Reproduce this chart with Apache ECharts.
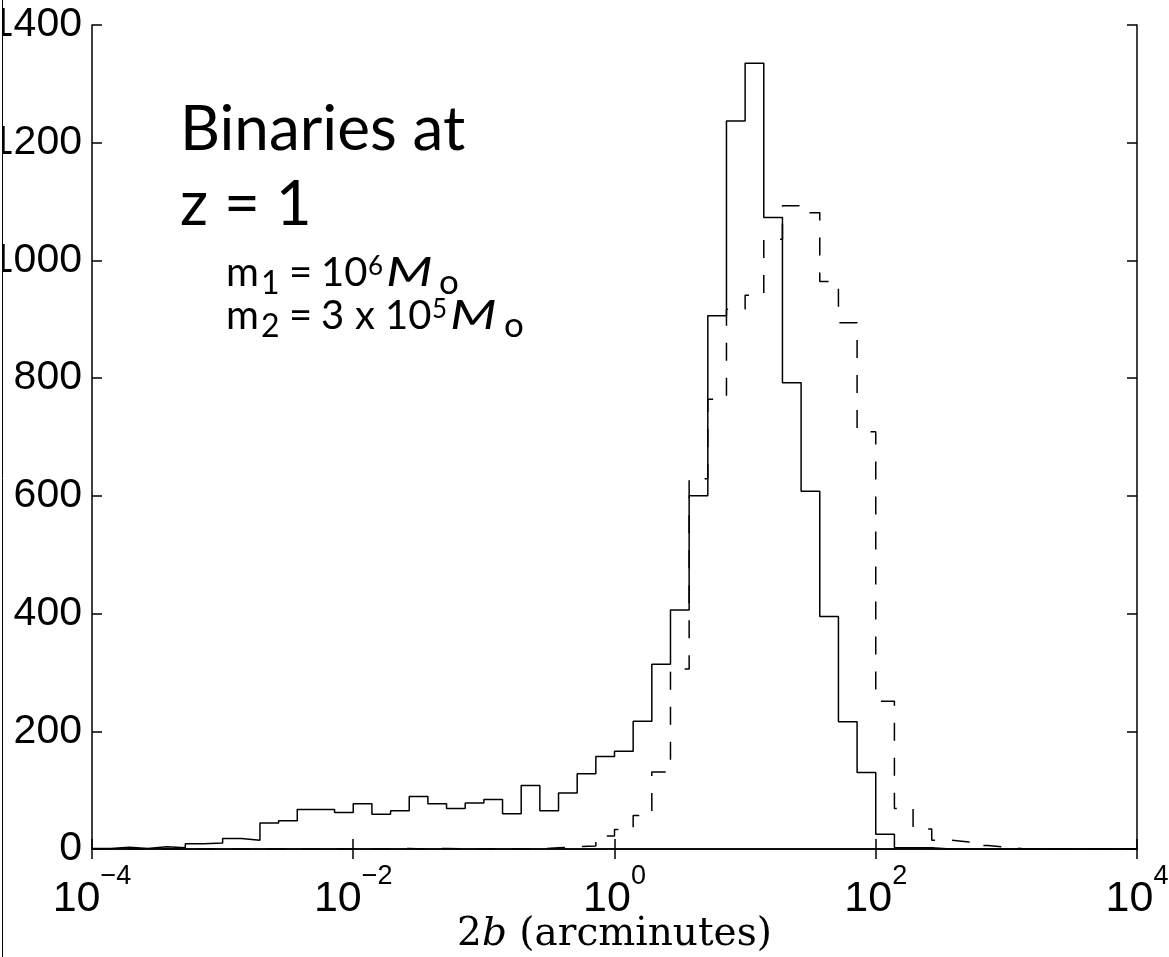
<!DOCTYPE html>
<html>
<head>
<meta charset="utf-8">
<script src="https://cdn.jsdelivr.net/npm/echarts@6/dist/echarts.min.js"></script>
<style>
html,body{margin:0;padding:0;background:#fff;}
#chart{width:1169px;height:957px;}
</style>
</head>
<body>
<div id="chart"></div>
<script>
// ---- data (histogram counts per log bin, 7 bins per decade from 10^-4) ----
const binsPerDecade = 7;
const xMinExp = -4;
const xMaxExp = 4;
const solidCounts = [
  1, 3, 1, 4, 2, 9, 10, 18, 15, 44,
  48, 67, 67, 62, 77, 59, 65, 89, 77, 69,
  78, 84, 60, 108, 65, 95, 128, 157, 166, 217,
  314, 406, 600, 906, 1237, 1335, 1073, 792, 608, 395,
  216, 130, 25, 2, 2, 0, 0, 0, 0, 0,
  0, 0, 0, 0, 0, 0
];
const dashedCounts = [
  0, 0, 0, 0, 0, 0, 0, 0, 0, 0,
  0, 0, 0, 0, 0, 0, 1, 0, 1, 0,
  0, 1, 0, 0, 2, 4, 5, 22, 33, 57,
  131, 306, 629, 764, 917, 941, 1036, 1093, 1081, 964,
  894, 709, 251, 69, 34, 15, 12, 6, 3, 0,
  0, 0, 0, 0, 0, 0
];
const yTicks = [0, 200, 400, 600, 800, 1000, 1200, 1400];
const xTitleParts = ['2', 'b', ' (arcminutes)'];
const annot = ['Binaries at', 'z = 1'];

// ---- build stair data from bin edges ----
function stairs(counts) {
  const pts = [];
  for (let k = 0; k < counts.length; k++) {
    pts.push([Math.pow(10, xMinExp + k / binsPerDecade), counts[k]]);
  }
  pts.push([Math.pow(10, xMinExp + counts.length / binsPerDecade), counts[counts.length - 1]]);
  return pts;
}

const chart = echarts.init(document.getElementById('chart'), null, {renderer: 'canvas'});

const F = 'Lato';
// text piece: t, x, baseline, size, italic, sx (horizontal stretch)
function piece(t, x, base, size, italic, sx) {
  return {
    type: 'text', x: x, y: base + 0.14 * size, silent: true,
    scaleX: sx || 1, originX: 0, originY: 0,
    style: {
      text: t, fontSize: size, fontFamily: F, fontStyle: italic ? 'italic' : 'normal',
      fill: '#000', textAlign: 'left', align: 'left',
      textVerticalAlign: 'bottom', verticalAlign: 'bottom'
    }
  };
}
const graphics = [
  piece(annot[0], 180, 152, 62),
  piece(annot[1], 180, 227, 62),
  // m1 = 10^6 Mo
  piece('m', 226, 287, 40),
  piece('1', 261, 295, 32),
  piece('=', 289, 287, 40),
  piece('10', 321, 287, 40),
  piece('6', 368, 276, 26),
  piece('M', 386, 287, 40, true, 1.35),
  piece('o', 439, 295, 35),
  // m2 = 3 x 10^5 Mo
  piece('m', 226, 330, 40),
  piece('2', 261, 338, 32),
  piece('=', 289, 330, 40),
  piece('3', 321, 330, 40),
  piece('x', 355, 330, 40),
  piece('10', 385, 330, 40),
  piece('5', 432, 319, 26),
  piece('M', 450, 330, 40, true, 1.35),
  piece('o', 504, 338, 35),
  {
    type: 'rect', silent: true, z: 100,
    shape: {x: 0, y: 0, width: 2, height: 957},
    style: {fill: '#fff'}
  },
  {
    type: 'line', silent: true, z: 101,
    shape: {x1: 2.5, y1: 0, x2: 2.5, y2: 957},
    style: {stroke: '#000', lineWidth: 1}
  }
];

const axisBase = {
  axisLine: {show: true, lineStyle: {color: '#000', width: 1.5}},
  axisTick: {show: true, inside: true, length: 10, lineStyle: {color: '#000', width: 1.5}},
  splitLine: {show: false}
};

const option = {
  animation: false,
  backgroundColor: '#fff',
  grid: {left: 92, top: 25, right: 32, bottom: 108, containLabel: false, outerBoundsMode: 'none'},
  xAxis: [
    Object.assign({
      type: 'log', logBase: 10, min: Math.pow(10, xMinExp), max: Math.pow(10, xMaxExp), interval: 2,
      position: 'bottom',
      name: '{n|' + xTitleParts[0] + '}{i|' + xTitleParts[1] + '}{n|' + xTitleParts[2] + '}',
      nameLocation: 'middle', nameGap: 66, nameMoveOverlap: false,
      nameTextStyle: {
        color: '#000',
        rich: {
          n: {fontFamily: 'DejaVu Serif', fontSize: 39, color: '#000'},
          i: {fontFamily: 'DejaVu Serif', fontSize: 39, fontStyle: 'italic', color: '#000'}
        }
      },
      axisLabel: {
        show: true, margin: 14, color: '#000',
        formatter: function (v) {
          const e = Math.round(Math.log10(v));
          return '{b|10}{s|' + (e < 0 ? '\u2212' : '') + Math.abs(e) + '}';
        },
        rich: {
          b: {fontSize: 43, fontFamily: 'Liberation Sans', color: '#000', lineHeight: 58, verticalAlign: 'bottom'},
          s: {fontSize: 27, fontFamily: 'Liberation Sans', color: '#000', lineHeight: 27, verticalAlign: 'top'}
        }
      }
    }, axisBase),
    Object.assign({
      type: 'log', logBase: 10, min: Math.pow(10, xMinExp), max: Math.pow(10, xMaxExp), interval: 2,
      position: 'top', axisLabel: {show: false}
    }, axisBase)
  ],
  yAxis: [
    Object.assign({
      type: 'value', min: yTicks[0], max: yTicks[yTicks.length - 1], interval: 200,
      position: 'left',
      axisLabel: {show: true, margin: 10, fontSize: 41, fontFamily: 'Liberation Sans', color: '#000',
        formatter: function (v) { return String(v); }}
    }, axisBase),
    Object.assign({
      type: 'value', min: yTicks[0], max: yTicks[yTicks.length - 1], interval: 200,
      position: 'right', axisLabel: {show: false}
    }, axisBase)
  ],
  series: [
    {
      type: 'line', name: 'solid', xAxisIndex: 0, yAxisIndex: 0,
      data: stairs(solidCounts), step: 'end', symbol: 'none',
      lineStyle: {color: '#000', width: 1.5}
    },
    {
      type: 'line', name: 'dashed', xAxisIndex: 0, yAxisIndex: 0,
      data: stairs(dashedCounts), step: 'end', symbol: 'none',
      lineStyle: {color: '#000', width: 1.5, type: [18, 17]}
    }
  ],
  graphic: graphics
};
chart.setOption(option);
</script>
</body>
</html>
